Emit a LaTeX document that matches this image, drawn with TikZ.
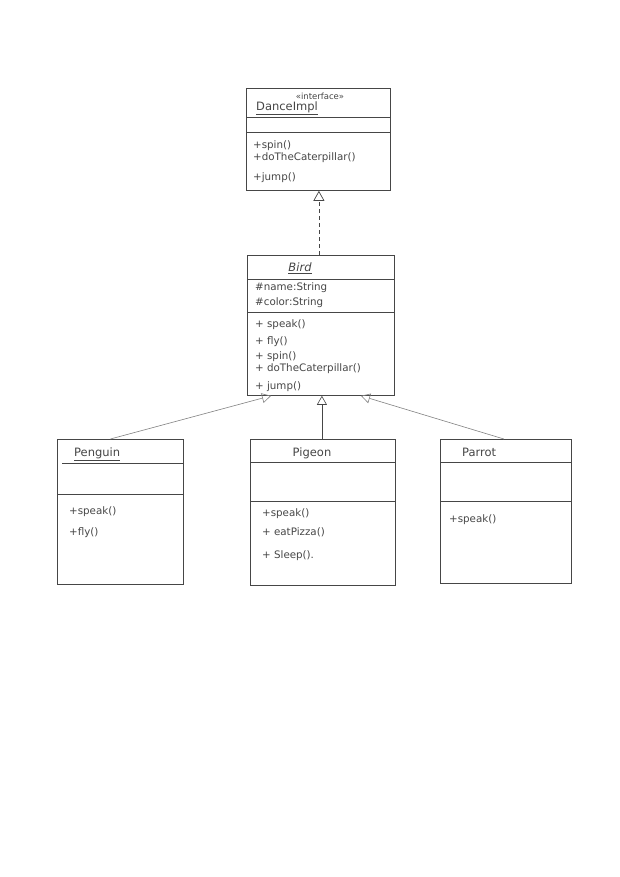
\documentclass[tikz,border=0pt]{standalone}
\usepackage{fontspec}
\setmainfont{DejaVu Sans}
\usetikzlibrary{arrows.meta,calc}
\definecolor{pencil}{RGB}{70,70,70}
\definecolor{softpencil}{RGB}{130,130,130}
\begin{document}
\begin{tikzpicture}[x=1pt,y=-1pt,
  classbox/.style={draw=pencil,line width=0.8pt,inner sep=0pt,anchor=north west},
  sep/.style={draw=pencil,line width=0.6pt},
  lbl/.style={anchor=west,inner sep=0pt,text=pencil,font=\fontsize{10.3}{11}\selectfont},
  ttl/.style={inner sep=0pt,text=pencil,font=\fontsize{11.5}{12}\selectfont},
  inh/.style={draw=softpencil,line width=0.6pt,-{Triangle[open,length=9pt,width=10pt]}},
  real/.style={draw=pencil,line width=0.7pt,dashed,dash pattern=on 4pt off 3pt,-{Triangle[open,length=10pt,width=11pt]}}]
\useasboundingbox (0,0) rectangle (620,877);
\fill[white] (0,0) rectangle (620,877);

% interface DanceImpl
\node[classbox,minimum width=144pt,minimum height=102pt] (dance) at (246,88) {};
\draw[sep] ($(dance.north west)+(0,29)$) -- ($(dance.north east)+(0,29)$);
\draw[sep] ($(dance.north west)+(0,44)$) -- ($(dance.north east)+(0,44)$);
\node[ttl,font=\fontsize{8.5}{9}\selectfont] (danceStereo) at (320,96) {<<interface>>};
\node[ttl,anchor=west] (danceName) at (256,108) {\underline{DanceImpl}};
\node[lbl] (dm1) at (253,146) {+spin()};
\node[lbl] (dm2) at (253,158) {+doTheCaterpillar()};
\node[lbl] (dm3) at (253,178) {+jump()};

% abstract class Bird
\node[classbox,minimum width=147pt,minimum height=140pt] (bird) at (247,255) {};
\draw[sep] ($(bird.north west)+(0,24)$) -- ($(bird.north east)+(0,24)$);
\draw[sep] ($(bird.north west)+(0,57)$) -- ($(bird.north east)+(0,57)$);
\node[ttl,font=\itshape\fontsize{11.5}{12}\selectfont] (birdName) at (300,268) {\underline{Bird}};
\node[lbl] (ba1) at (255,288) {\#name:String};
\node[lbl] (ba2) at (255,303) {\#color:String};
\node[lbl] (bm1) at (255,325) {+ speak()};
\node[lbl] (bm2) at (255,342) {+ fly()};
\node[lbl] (bm3) at (255,357) {+ spin()};
\node[lbl] (bm4) at (255,369) {+ doTheCaterpillar()};
\node[lbl] (bm5) at (255,387) {+ jump()};

% Penguin
\node[classbox,minimum width=126pt,minimum height=145pt] (penguin) at (57,439) {};
\draw[sep] ($(penguin.north west)+(5,24)$) -- ($(penguin.north east)+(0,24)$);
\draw[sep] ($(penguin.north west)+(0,55)$) -- ($(penguin.north east)+(0,55)$);
\node[ttl,anchor=west] (penguinName) at (74,454) {\underline{Penguin}};
\node[lbl] (pm1) at (69,512) {+speak()};
\node[lbl] (pm2) at (69,533) {+fly()};

% Pigeon
\node[classbox,minimum width=145pt,minimum height=146pt] (pigeon) at (250,439) {};
\draw[sep] ($(pigeon.north west)+(0,23)$) -- ($(pigeon.north east)+(0,23)$);
\draw[sep] ($(pigeon.north west)+(0,62)$) -- ($(pigeon.north east)+(0,62)$);
\node[ttl] (pigeonName) at (312,453) {Pigeon};
\node[lbl] (gm1) at (262,514) {+speak()};
\node[lbl] (gm2) at (262,532) {+ eatPizza()};
\node[lbl] (gm3) at (262,556) {+ Sleep().};

% Parrot
\node[classbox,minimum width=131pt,minimum height=144pt] (parrot) at (440,439) {};
\draw[sep] ($(parrot.north west)+(0,23)$) -- ($(parrot.north east)+(0,23)$);
\draw[sep] ($(parrot.north west)+(0,62)$) -- ($(parrot.north east)+(0,62)$);
\node[ttl,anchor=west] (parrotName) at (462,452) {Parrot};
\node[lbl] (rm1) at (449,520) {+speak()};

% realization and generalization connectors
\coordinate (birdTop) at ($(bird.north)+(-2,0)$);
\coordinate (tipPenguin) at ($(bird.south west)+(24,0)$);
\coordinate (tipPigeon) at ($(bird.south)+(1,0)$);
\coordinate (tipParrot) at ($(bird.south west)+(114,0)$);
\coordinate (footPenguin) at ($(penguin.north)+(-10,0)$);
\coordinate (footParrot) at ($(parrot.north)+(-2,0)$);
\draw[real] (birdTop) -- (birdTop |- dance.south);
\draw[inh] (footPenguin) -- (tipPenguin);
\draw[inh,draw=pencil] (tipPigeon |- pigeon.north) -- (tipPigeon);
\draw[inh] (footParrot) -- (tipParrot);
\end{tikzpicture}
\end{document}
